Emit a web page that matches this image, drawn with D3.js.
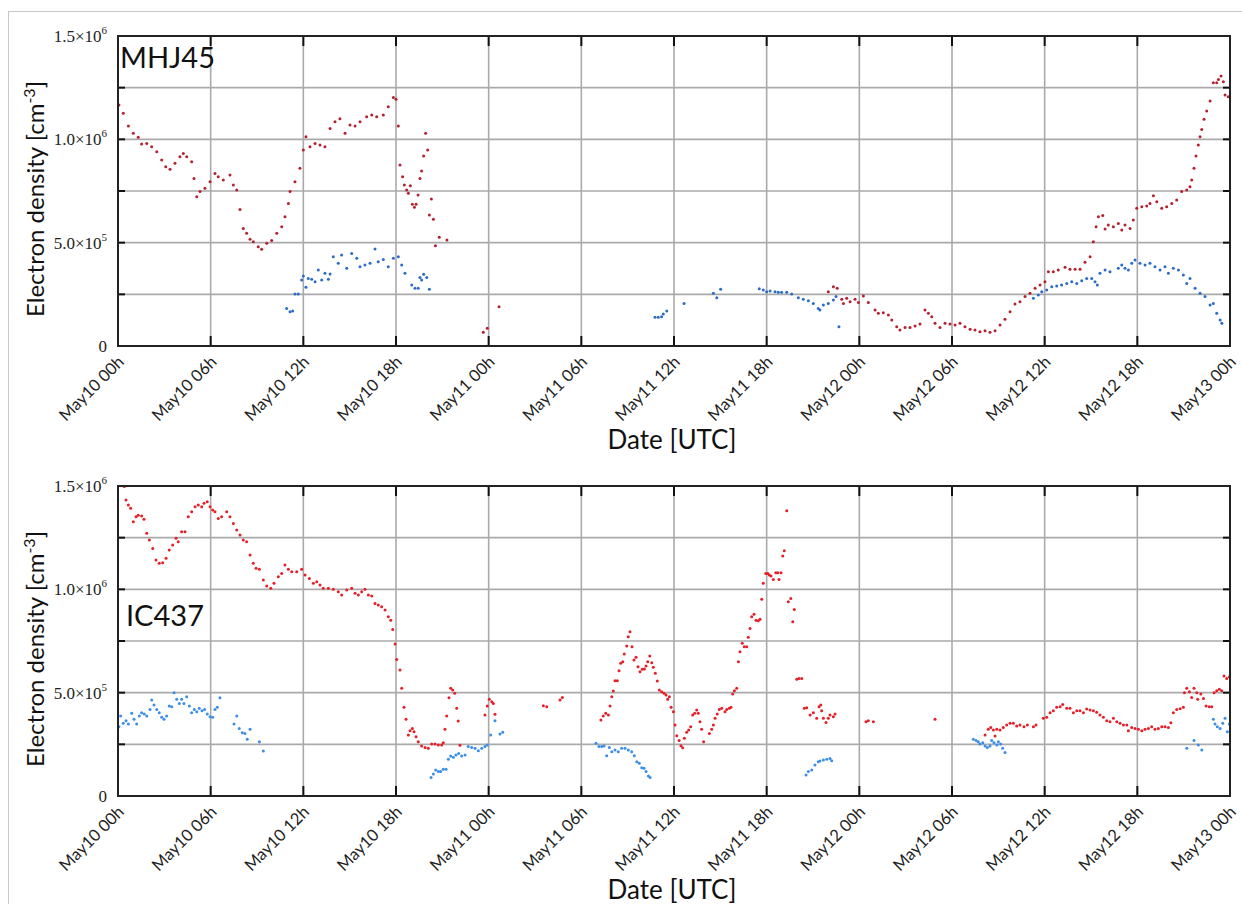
<!DOCTYPE html>
<meta charset="utf-8">
<html>
<head>
<style>
  body { margin: 0; background: #fff; }
  svg { display: block; }
  .grid line { stroke: #aaa; stroke-width: 1.6; }
</style>
</head>
<body>
<div id="chart"></div>
<script src="https://d3js.org/d3.v7.min.js"></script>
<script>
// values: [hours since May10 00:00 UTC, density in 1e5 cm^-3]
var mhj45Red = [
  [0.06,11.66],[0.34,11.26],[0.67,10.64],[0.99,10.29],[1.31,10.10],[1.53,9.77],[1.86,9.80],[2.18,9.64],
  [2.51,9.40],[2.83,9.00],[3.09,8.67],[3.37,8.55],[3.69,8.84],[4.01,9.16],[4.23,9.32],[4.45,9.16],
  [4.77,8.92],[4.92,8.11],[5.10,7.22],[5.31,7.47],[5.63,7.63],[5.96,7.95],[6.28,8.35],[6.49,8.19],
  [6.82,8.03],[7.25,8.27],[7.47,7.79],[7.69,7.55],[7.90,6.61],[8.11,5.69],[8.33,5.45],[8.55,5.16],
  [8.76,5.05],[9.08,4.80],[9.30,4.68],[9.63,4.97],[9.95,5.10],[10.28,5.45],[10.60,5.77],[10.81,6.26],
  [11.03,6.90],[11.14,7.47],[11.46,7.95],[11.78,8.60],[12.00,9.48],[12.17,10.13],[12.43,9.64],[12.76,9.80],
  [13.08,9.72],[13.40,9.64],[13.73,10.53],[14.05,10.85],[14.37,11.00],[14.70,10.29],[15.02,10.69],[15.35,10.64],
  [15.67,10.85],[16.10,11.09],[16.43,11.18],[16.75,11.09],[17.18,11.18],[17.50,11.58],[17.83,12.03],[18.00,11.94],
  [18.15,10.64],[18.26,8.76],[18.43,8.19],[18.54,7.79],[18.69,7.55],[18.80,7.39],[18.93,7.76],[19.06,6.86],
  [19.19,6.71],[19.30,6.86],[19.43,7.31],[19.55,8.11],[19.66,8.47],[19.79,9.19],[19.92,10.29],[20.05,9.48],
  [20.16,6.34],[20.29,7.11],[20.42,6.13],[20.55,4.85],[20.80,5.26],[21.30,5.13],
  [23.65,0.66],[23.91,0.86],[24.67,1.90],
  [45.99,2.63],[46.32,2.87],[46.57,2.80],[46.86,2.26],[46.97,2.06],[47.18,2.31],[47.40,2.14],[47.72,2.26],
  [47.94,2.10],[48.26,2.42],[48.58,2.10],[49.02,1.74],[49.23,1.58],[49.55,1.61],[49.88,1.50],[50.10,1.26],
  [50.42,0.93],[50.63,0.77],[50.96,0.90],[51.28,0.90],[51.61,0.97],[51.93,1.06],[52.25,1.74],[52.47,1.58],
  [52.69,1.42],[52.90,1.10],[53.22,0.89],[53.55,1.10],[53.87,1.06],[54.20,1.02],[54.52,1.10],[54.84,0.93],
  [55.17,0.81],[55.49,0.77],[55.81,0.69],[56.14,0.74],[56.46,0.66],[56.79,0.74],[57.11,1.02],[57.43,1.29],
  [57.76,1.66],[58.08,2.03],[58.40,2.14],[58.73,2.39],[59.05,2.55],[59.38,2.79],[59.70,2.95],[60.02,3.11],
  [60.24,3.59],[60.56,3.59],[60.88,3.68],[61.32,3.81],[61.64,3.71],[61.97,3.71],[62.29,3.71],[62.61,4.05],
  [62.94,4.32],[63.15,5.05],[63.33,5.77],[63.48,6.26],[63.76,6.32],[63.91,5.66],[64.12,5.85],[64.45,5.77],
  [64.77,5.93],[64.99,5.61],[65.20,5.85],[65.53,5.69],[65.74,6.10],[65.96,6.66],[66.29,6.74],[66.61,6.77],
  [66.82,6.90],[67.04,7.27],[67.26,6.98],[67.58,6.66],[67.90,6.74],[68.23,6.90],[68.55,7.06],[68.87,7.47],
  [69.20,7.55],[69.41,7.71],[69.52,8.03],[69.67,8.60],[69.80,9.19],[69.95,9.72],[70.06,10.13],[70.17,10.48],
  [70.32,10.97],[70.49,11.37],[70.71,11.85],[70.92,12.74],[71.14,12.74],[71.25,12.90],[71.42,13.06],[71.57,12.79],
  [71.68,12.14],[71.89,12.06]
];
var mhj45Blue = [
  [10.92,1.82],[11.14,1.66],[11.31,1.69],[11.46,2.52],[11.67,2.52],[11.89,3.19],[12.00,3.39],[12.17,2.84],
  [12.32,3.27],[12.54,3.23],[12.76,3.11],[12.97,3.68],[13.19,3.19],[13.40,3.52],[13.62,3.23],[13.73,3.48],
  [13.94,4.32],[14.26,4.00],[14.48,4.40],[14.81,3.76],[15.13,4.48],[15.46,4.24],[15.67,3.84],[15.99,3.92],
  [16.32,4.00],[16.64,4.69],[16.85,4.08],[17.18,4.19],[17.50,3.84],[17.83,4.24],[18.15,4.32],[18.37,3.92],
  [18.58,3.52],[19.02,2.95],[19.23,2.79],[19.44,2.79],[19.55,3.32],[19.66,3.19],[19.79,3.47],[19.99,3.32],
  [20.16,2.74],
  [34.77,1.39],[34.98,1.39],[35.20,1.42],[35.31,1.55],[35.53,1.69],[36.65,2.06],[38.55,2.55],[38.77,2.34],
  [39.02,2.74],[41.52,2.77],[41.78,2.71],[42.00,2.63],[42.22,2.66],[42.54,2.63],[42.75,2.60],[42.97,2.60],
  [43.30,2.60],[43.62,2.52],[44.05,2.34],[44.37,2.26],[44.70,2.19],[45.02,2.06],[45.34,1.82],[45.45,1.74],
  [45.67,1.98],[45.99,2.06],[46.32,2.23],[46.49,2.39],[46.68,0.93],
  [59.27,2.31],[59.59,2.47],[59.81,2.63],[60.13,2.71],[60.46,2.87],[60.78,2.90],[61.10,2.95],[61.43,3.03],
  [61.75,3.11],[62.08,3.03],[62.40,3.16],[62.72,3.27],[63.05,3.27],[63.26,3.11],[63.41,2.95],[63.58,3.52],
  [63.91,3.68],[64.23,3.59],[64.77,3.76],[64.99,3.92],[65.20,3.76],[65.42,3.68],[65.64,4.00],[65.85,4.16],
  [66.17,4.00],[66.50,3.92],[66.82,4.00],[67.14,3.84],[67.47,3.68],[67.79,3.84],[68.01,3.52],[68.33,3.76],
  [68.66,3.68],[68.98,3.44],[69.20,3.03],[69.41,3.27],[69.74,2.79],[70.06,2.55],[70.38,2.39],[70.71,1.98],
  [70.92,2.06],[71.14,1.58],[71.36,1.26],[71.47,1.10]
];
var ic437Red = [
  [0.41,14.98],[0.52,14.32],[0.67,14.08],[0.82,13.92],[0.99,13.27],[1.17,13.51],[1.31,13.59],[1.53,13.55],
  [1.68,13.39],[1.86,12.71],[2.03,12.39],[2.25,11.98],[2.46,11.42],[2.67,11.26],[2.89,11.29],[3.11,11.50],
  [3.32,11.90],[3.54,12.14],[3.76,12.47],[3.90,12.30],[4.12,12.79],[4.34,12.79],[4.55,13.51],[4.77,13.75],
  [4.99,14.00],[5.20,14.08],[5.42,14.00],[5.57,14.16],[5.78,14.24],[5.96,14.00],[6.13,13.84],[6.28,13.75],
  [6.49,13.43],[6.71,13.51],[7.04,13.75],[7.25,13.51],[7.47,13.19],[7.69,12.87],[7.90,12.63],[8.11,12.39],
  [8.33,12.30],[8.55,11.66],[8.76,11.26],[8.94,11.02],[9.15,10.97],[9.41,10.45],[9.63,10.16],[9.89,10.05],
  [10.10,10.29],[10.38,10.61],[10.60,10.77],[10.81,11.18],[11.03,10.97],[11.25,10.85],[11.57,10.85],[11.89,10.97],
  [12.11,10.69],[12.39,10.53],[12.65,10.29],[12.87,10.37],[13.08,10.21],[13.29,10.05],[13.62,10.05],[13.94,10.00],
  [14.26,9.88],[14.48,9.72],[14.81,9.97],[15.13,10.05],[15.35,9.81],[15.56,9.72],[15.78,9.88],[15.99,10.00],
  [16.21,9.72],[16.43,9.68],[16.64,9.32],[16.85,9.24],[17.07,9.16],[17.29,9.00],[17.50,8.67],[17.66,8.51],
  [17.79,8.06],[17.94,7.35],[18.05,6.61],[18.26,6.10],[18.37,5.21],[18.52,4.29],[18.65,3.71],[18.80,2.95],
  [18.91,3.16],[19.06,3.27],[19.17,3.11],[19.30,2.87],[19.44,2.63],[19.66,2.42],[19.88,2.35],[20.09,2.31],
  [20.31,2.52],[20.53,2.52],[20.74,2.47],[20.96,2.47],[21.06,2.58],[21.17,3.23],[21.28,3.87],[21.43,4.76],
  [21.54,5.21],[21.67,5.13],[21.80,4.97],[21.93,4.24],[22.03,3.63],[22.14,2.45],
  [23.76,3.92],[23.91,4.35],[24.04,4.68],[24.20,4.56],[24.30,4.48],[24.41,3.95],
  [27.54,4.37],[27.76,4.32],[28.62,4.64],[28.77,4.77],
  [31.27,3.68],[31.42,3.87],[31.58,4.00],[31.75,3.92],[31.86,4.35],[31.97,4.80],[32.07,5.08],[32.18,5.58],
  [32.33,5.58],[32.44,6.06],[32.55,6.42],[32.68,6.50],[32.78,6.87],[32.94,7.26],[33.04,7.71],[33.15,7.95],
  [33.28,7.22],[33.41,6.58],[33.54,6.71],[33.67,6.26],[33.80,6.01],[33.95,6.13],[34.08,6.14],[34.19,6.29],
  [34.30,6.50],[34.43,6.77],[34.56,6.45],[34.66,6.23],[34.79,5.94],[34.92,5.56],[35.05,5.13],[35.20,5.05],
  [35.35,4.97],[35.48,4.89],[35.59,4.68],[35.70,4.80],[35.81,4.29],[35.96,4.08],[36.07,3.43],[36.18,2.92],
  [36.33,2.68],[36.45,2.43],[36.56,2.34],[36.67,2.79],[36.82,3.08],[36.95,3.19],[37.08,3.35],[37.21,3.92],
  [37.34,4.00],[37.47,4.16],[37.57,4.00],[37.68,3.59],[37.79,3.23],[37.92,2.63],[38.29,3.03],[38.44,3.23],
  [38.55,3.43],[38.66,3.76],[38.80,3.97],[38.93,4.19],[39.09,4.24],[39.30,4.08],[39.41,4.19],[39.58,4.24],
  [39.69,4.29],[39.80,4.93],[39.91,5.09],[40.06,5.21],[40.17,6.50],[40.27,6.98],[40.42,7.39],[40.55,7.22],
  [40.71,7.22],[40.81,7.68],[40.92,8.11],[41.03,8.67],[41.18,8.80],[41.31,8.51],[41.46,8.48],[41.57,8.55],
  [41.68,9.52],[41.78,10.29],[41.94,10.77],[42.07,10.77],[42.17,10.69],[42.28,10.64],[42.43,10.48],[42.59,10.80],
  [42.72,10.80],[42.80,10.48],[42.93,10.80],[43.04,11.61],[43.14,11.87],[43.30,13.80],[43.40,9.40],[43.56,9.56],
  [43.69,8.43],[43.79,9.03],[43.95,5.65],[44.09,5.69],[44.27,5.69],[44.44,4.24],[44.59,4.27],[44.81,3.92],
  [45.02,4.03],[45.24,3.76],[45.39,4.32],[45.50,4.40],[45.56,4.13],[45.67,3.76],[45.84,3.56],[45.99,3.76],
  [46.10,3.92],[46.32,3.84],[46.43,3.97],
  [48.43,3.59],[48.58,3.64],[48.91,3.59],[52.90,3.71],
  [56.14,2.95],[56.35,3.23],[56.51,3.32],[56.68,3.19],[56.79,2.90],[56.90,3.23],[57.11,3.19],[57.32,3.31],
  [57.54,3.43],[57.76,3.52],[57.97,3.52],[58.19,3.39],[58.40,3.43],[58.66,3.35],[58.88,3.43],[59.27,3.35],
  [59.44,3.43],[59.91,3.76],[60.13,3.81],[60.35,4.03],[60.56,4.13],[60.78,4.29],[61.00,4.32],[61.17,4.43],
  [61.43,4.24],[61.64,4.24],[61.86,4.03],[62.08,4.13],[62.29,4.13],[62.51,4.03],[62.72,4.21],[62.94,4.16],
  [63.15,4.13],[63.37,4.05],[63.58,3.92],[63.80,3.81],[64.02,3.64],[64.23,3.59],[64.45,3.76],[64.67,3.59],
  [64.88,3.52],[65.10,3.43],[65.32,3.43],[65.42,3.16],[65.64,3.32],[65.85,3.27],[66.07,3.23],[66.29,3.16],
  [66.50,3.23],[66.72,3.27],[66.93,3.35],[67.14,3.23],[67.36,3.27],[67.58,3.35],[67.79,3.35],[68.01,3.32],
  [68.17,3.55],[68.33,4.03],[68.55,4.19],[68.77,4.22],[68.98,4.29],[69.05,5.00],[69.20,5.21],[69.37,5.05],
  [69.52,4.77],[69.67,5.21],[69.85,5.00],[69.91,4.68],[70.11,4.93],[70.28,4.72],[70.45,4.35],[70.66,4.32],
  [70.82,4.32],[70.97,5.00],[71.14,5.09],[71.31,5.16],[71.46,5.09],[71.61,5.81],[71.79,5.69],[71.96,5.77]
];
var ic437Blue = [
  [0.06,3.35],[0.17,3.87],[0.34,3.52],[0.52,3.64],[0.67,3.48],[0.89,4.00],[1.04,3.71],[1.21,3.48],
  [1.38,3.87],[1.53,4.03],[1.70,3.97],[1.86,3.87],[2.07,4.19],[2.18,4.64],[2.33,4.40],[2.51,4.19],
  [2.67,4.03],[2.83,3.81],[2.98,3.71],[3.15,3.87],[3.32,4.35],[3.48,4.32],[3.63,5.00],[3.80,4.68],
  [3.97,4.48],[4.12,4.68],[4.27,4.48],[4.45,4.80],[4.62,4.35],[4.77,4.03],[4.94,4.19],[5.10,4.08],
  [5.26,4.24],[5.44,4.13],[5.61,4.19],[5.78,3.97],[5.96,3.84],[6.13,3.81],[6.28,4.19],[6.43,4.29],
  [6.60,4.76],[7.51,3.48],[7.69,3.87],[7.85,3.27],[8.05,3.06],[8.22,3.03],[8.37,2.74],[8.55,3.23],
  [9.15,2.63],[9.41,2.18],
  [20.27,0.90],[20.42,1.06],[20.57,1.26],[20.74,1.18],[20.89,1.18],[21.06,1.29],[21.24,1.29],[21.39,1.78],
  [21.54,1.94],[21.71,1.87],[21.88,1.98],[22.06,2.06],[22.25,1.94],[22.47,1.98],[22.68,2.39],[22.90,2.35],
  [23.12,2.31],[23.33,2.19],[23.55,2.31],[23.76,2.39],[23.91,2.47],[24.13,2.95],[24.41,3.64],[24.73,3.00],
  [24.91,3.08],
  [30.95,2.55],[31.14,2.39],[31.32,2.39],[31.47,2.42],[31.64,1.95],[31.81,2.35],[31.97,2.14],[32.18,2.23],
  [32.39,2.14],[32.61,2.31],[32.83,2.31],[33.04,2.23],[33.26,2.14],[33.43,1.95],[33.59,1.66],[33.75,1.58],
  [33.91,1.37],[34.06,1.34],[34.19,1.18],[34.34,0.97],[34.45,0.90],
  [44.55,1.02],[44.70,1.18],[44.92,1.26],[45.13,1.50],[45.34,1.66],[45.45,1.69],[45.67,1.74],[45.89,1.78],
  [46.10,1.82],[46.21,1.71],
  [55.38,2.74],[55.56,2.68],[55.70,2.63],[55.81,2.52],[55.99,2.58],[56.14,2.42],[56.29,2.35],[56.46,2.42],
  [56.57,2.68],[56.72,2.58],[56.90,2.47],[57.00,2.63],[57.15,2.52],[57.28,2.31],[57.43,2.10],
  [69.20,2.31],[69.67,2.68],[69.95,2.47],[70.17,2.23],[70.92,3.71],[71.03,3.48],[71.18,3.35],[71.36,3.27],
  [71.53,3.52],[71.68,3.76],[71.83,3.11],[71.96,3.48]
];
var yTicks = [0, 2.5e5, 5e5, 7.5e5, 1e6, 1.25e6, 1.5e6];
var yLabels = [[0, "0"], [5e5, "5.0", "5"], [1e6, "1.0", "6"], [1.5e6, "1.5", "6"]];

var W = 1242, H = 904;
var left = 118, right = 1230, plotH = 310;
var start = Date.UTC(2024, 4, 10, 0), end = Date.UTC(2024, 4, 13, 0);
var sans = "'Lato', 'Open Sans', sans-serif";
var serif = "'Liberation Serif', 'DejaVu Serif', serif";

var svg = d3.select("#chart").append("svg").attr("width", W).attr("height", H);
svg.append("rect").attr("x", 8.5).attr("y", 11.5).attr("width", 1300).attr("height", 1000)
  .attr("fill", "none").attr("stroke", "#c8c8c8");

var x = d3.scaleUtc().domain([start, end]).range([left, right]);
var xTicks = d3.utcHour.every(6).range(start, end + 1);
var fmt = d3.utcFormat("%b%d %Hh");

function panel(top, red, blue, cRed, cBlue, name, nx, ny) {
  var bottom = top + plotH;
  var y = d3.scaleLinear().domain([0, 1.5e6]).range([bottom, top]);
  var g = svg.append("g");

  var grid = g.append("g").attr("class", "grid");
  grid.selectAll(".v").data(xTicks).enter().append("line")
    .attr("x1", x).attr("x2", x).attr("y1", top).attr("y2", bottom);
  grid.selectAll(".h").data(yTicks).enter().append("line")
    .attr("x1", left).attr("x2", right).attr("y1", y).attr("y2", y);

  // inner tick marks
  var tk = g.append("g").attr("stroke", "#111").attr("stroke-width", 2);
  xTicks.forEach(function (t) {
    tk.append("line").attr("x1", x(t)).attr("x2", x(t)).attr("y1", top).attr("y2", top + 10);
    tk.append("line").attr("x1", x(t)).attr("x2", x(t)).attr("y1", bottom).attr("y2", bottom - 10);
  });
  yTicks.forEach(function (v) {
    tk.append("line").attr("x1", left).attr("x2", left + 7).attr("y1", y(v)).attr("y2", y(v));
    tk.append("line").attr("x1", right).attr("x2", right - 7).attr("y1", y(v)).attr("y2", y(v));
  });

  function dots(data, color) {
    g.append("g").selectAll("circle").data(data).enter().append("circle")
      .attr("cx", function (d) { return x(start + d[0] * 3600e3); })
      .attr("cy", function (d) { return y(d[1] * 1e5); })
      .attr("r", 1.5).attr("fill", color);
  }
  dots(red, cRed);
  dots(blue, cBlue);

  g.append("rect").attr("x", left).attr("y", top).attr("width", right - left).attr("height", plotH)
    .attr("fill", "none").attr("stroke", "#222").attr("stroke-width", 2);

  // y tick labels
  yLabels.forEach(function (l) {
    var t = g.append("text").attr("x", 107).attr("y", y(l[0]) + 6)
      .attr("text-anchor", "end").attr("font-family", serif).attr("font-size", 17).attr("fill", "#222");
    if (l.length === 2) { t.text(l[1]); return; }
    t.append("tspan").text(l[1] + "\u00d710");
    t.append("tspan").attr("dy", -8).attr("font-size", 11).text(l[2]);
  });

  // x tick labels
  xTicks.forEach(function (t) {
    g.append("text").attr("transform", "translate(" + (x(t) + 7) + "," + (bottom + 17) + ") rotate(-45)")
      .attr("text-anchor", "end").attr("font-family", sans).attr("font-size", 16.5).attr("fill", "#222")
      .text(fmt(t));
  });

  var yt = g.append("text").attr("transform", "translate(44," + (top + 163) + ") rotate(-90)")
    .attr("text-anchor", "middle").attr("font-family", sans).attr("font-size", 24).attr("fill", "#111");
  yt.append("tspan").text("Electron density [cm");
  yt.append("tspan").attr("dy", -9).attr("font-size", 16).text("-3");
  yt.append("tspan").attr("dy", 9).text("]");

  g.append("text").attr("x", (left + right) / 2 - 2).attr("y", bottom + 103)
    .attr("text-anchor", "middle").attr("font-family", sans).attr("font-size", 26).attr("fill", "#111")
    .text("Date [UTC]");

  g.append("text").attr("x", nx).attr("y", ny).attr("font-family", sans).attr("font-size", 29)
    .attr("fill", "#111").text(name);
}

panel(36, mhj45Red, mhj45Blue, "#b5202f", "#2c6cc6", "MHJ45", 120, 68);
panel(486, ic437Red, ic437Blue, "#e51f28", "#3b8ee6", "IC437", 126, 626);
</script>
</body>
</html>
